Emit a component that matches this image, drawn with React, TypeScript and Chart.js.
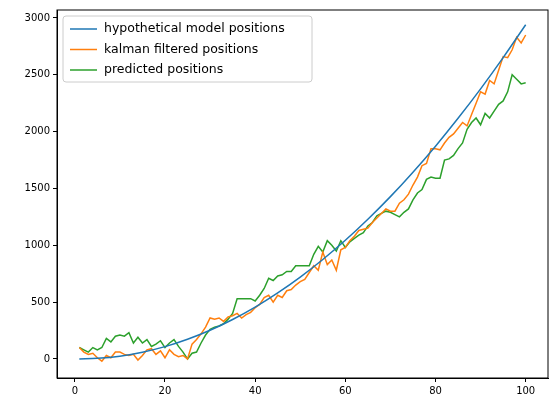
import { useEffect, useRef } from "react";
import { Chart, registerables, type Plugin } from "chart.js";

Chart.register(...registerables);

const modelX = [1, 5, 10, 15, 20, 25, 30, 35, 40, 45, 50, 55, 60, 65, 70, 75, 80, 85, 90, 95, 100];
const modelY = [0, 5, 24, 59, 108, 173, 252, 347, 456, 581, 720, 875, 1044, 1229, 1428, 1643, 1872, 2117, 2376, 2651, 2940];

const kalman = [
  100, 60, 40, 50, 10, -20, 30, 10, 60, 60,
  40, 30, 40, -10, 30, 80, 90, 40, 70, 10,
  80, 40, 20, 30, 0, 130, 170, 220, 280, 360,
  350, 360, 330, 370, 380, 400, 360, 390, 410, 450,
  480, 540, 560, 500, 560, 540, 600, 610, 650, 680,
  700, 760, 820, 780, 940, 830, 870, 780, 960, 980,
  1040, 1080, 1130, 1140, 1150, 1200, 1240, 1280, 1320, 1300,
  1300, 1370, 1400, 1450, 1530, 1600, 1700, 1720, 1850, 1850,
  1840, 1900, 1950, 1980, 2030, 2080, 2050, 2150, 2250, 2350,
  2330, 2450, 2420, 2540, 2660, 2650, 2720, 2830, 2780, 2850,
];

const predicted = [
  100, 80, 60, 100, 80, 100, 180, 150, 200, 210,
  200, 230, 140, 190, 140, 170, 110, 130, 160, 100,
  140, 170, 110, 60, 0, 50, 60, 140, 210, 260,
  280, 290, 310, 350, 400, 530, 530, 530, 530, 510,
  560, 620, 710, 690, 730, 740, 770, 770, 820, 820,
  820, 820, 920, 990, 940, 1040, 1000, 950, 1040, 980,
  1030, 1060, 1090, 1110, 1170, 1200, 1260, 1280, 1300, 1290,
  1270, 1250, 1290, 1320, 1400, 1460, 1490, 1580, 1600, 1590,
  1590, 1750, 1760, 1790, 1850, 1900, 2020, 2080, 2120, 2060,
  2160, 2120, 2180, 2240, 2270, 2350, 2500, 2460, 2420, 2430,
];

const seriesNames = ["hypothetical model positions", "kalman filtered positions", "predicted positions"];
const seriesColors = ["#1f77b4", "#ff7f0e", "#2ca02c"];

const frameAndLegend: Plugin<"line"> = {
  id: "frameAndLegend",
  afterDraw(chart) {
    const { ctx, chartArea: a } = chart;
    ctx.save();
    ctx.strokeStyle = "#000";
    ctx.lineWidth = 1;
    ctx.strokeRect(a.left, a.top, a.right - a.left, a.bottom - a.top);
    // legend box
    const bx = a.left + 6, by = a.top + 6, bw = 249, bh = 66;
    ctx.fillStyle = "rgba(255,255,255,0.8)";
    ctx.strokeStyle = "#cccccc";
    ctx.beginPath();
    ctx.roundRect(bx, by, bw, bh, 3);
    ctx.fill();
    ctx.stroke();
    ctx.font = "12.5px 'DejaVu Sans'";
    ctx.textBaseline = "middle";
    seriesNames.forEach((name, i) => {
      const y = by + 13 + i * 20.5;
      ctx.strokeStyle = seriesColors[i];
      ctx.lineWidth = 1.5;
      ctx.beginPath();
      ctx.moveTo(bx + 7, y);
      ctx.lineTo(bx + 34, y);
      ctx.stroke();
      ctx.fillStyle = "#000";
      ctx.fillText(name, bx + 41, y);
    });
    ctx.restore();
  },
};

export default function App() {
  const canvasRef = useRef<HTMLCanvasElement | null>(null);

  useEffect(() => {
    document.body.style.margin = "0";
    if (!canvasRef.current) return;
    const xs = kalman.map((_, i) => i + 1);
    const chart = new Chart(canvasRef.current, {
      type: "line",
      data: {
        datasets: [
          { label: seriesNames[0], data: modelX.map((x, i) => ({ x, y: modelY[i] })), borderColor: seriesColors[0], cubicInterpolationMode: "monotone" },
          { label: seriesNames[1], data: xs.map((x, i) => ({ x, y: kalman[i] })), borderColor: seriesColors[1] },
          { label: seriesNames[2], data: xs.map((x, i) => ({ x, y: predicted[i] })), borderColor: seriesColors[2] },
        ].map((d) => ({ ...d, borderWidth: 1.5, pointRadius: 0, fill: false })),
      },
      options: {
        responsive: false,
        animation: false,
        layout: { padding: { top: 10, right: 12, left: 0, bottom: 0 } },
        plugins: { legend: { display: false }, tooltip: { enabled: false } },
        scales: {
          x: {
            type: "linear",
            min: -3.95,
            max: 104.95,
            afterBuildTicks: (s) => { s.ticks = [0, 20, 40, 60, 80, 100].map((v) => ({ value: v })); },
            afterFit: (s) => { s.height = 35; },
            grid: { drawOnChartArea: false, tickLength: 4, color: "#000" },
            border: { color: "#000" },
            ticks: { color: "#000", font: { family: "DejaVu Sans", size: 10 }, maxRotation: 0, callback: (v) => String(v) },
          },
          y: {
            min: -168,
            max: 3070,
            afterBuildTicks: (s) => { s.ticks = [0, 500, 1000, 1500, 2000, 2500, 3000].map((v) => ({ value: v })); },
            afterFit: (s) => { s.width = 57; },
            grid: { drawOnChartArea: false, tickLength: 4, color: "#000" },
            border: { color: "#000" },
            ticks: { color: "#000", font: { family: "DejaVu Sans", size: 10 }, callback: (v) => String(v) },
          },
        },
      },
      plugins: [frameAndLegend],
    });
    return () => chart.destroy();
  }, []);

  return <canvas ref={canvasRef} width={560} height={413} style={{ width: 560, height: 413, display: "block" }} />;
}
